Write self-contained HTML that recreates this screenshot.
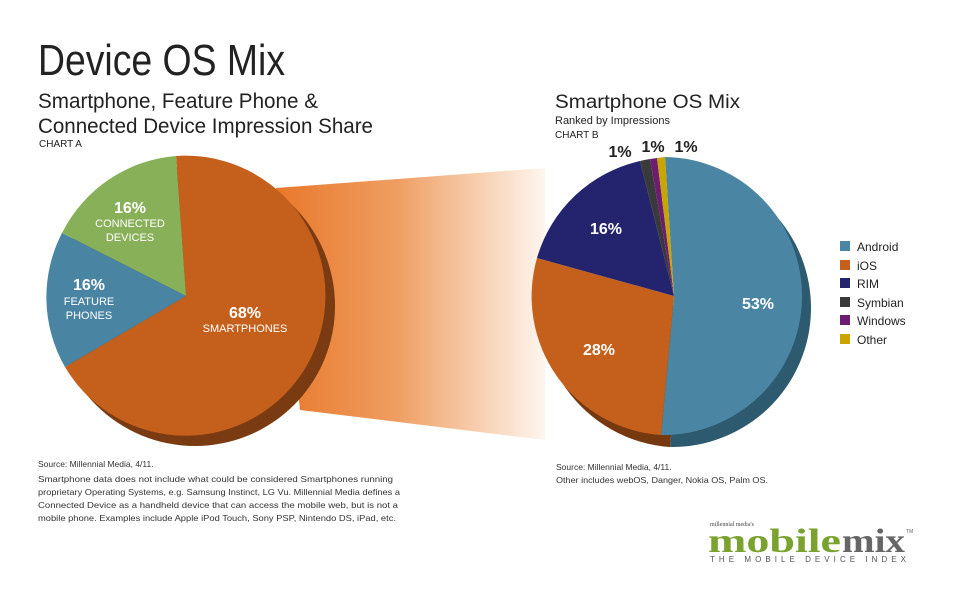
<!DOCTYPE html>
<html><head><meta charset="utf-8"><style>
html,body{margin:0;padding:0;background:#fff;}
svg{display:block;font-family:"Liberation Sans",sans-serif;}
</style></head><body>
<svg width="957" height="598" viewBox="0 0 957 598" xmlns="http://www.w3.org/2000/svg">
<defs>
<linearGradient id="fun" x1="276" y1="0" x2="545" y2="0" gradientUnits="userSpaceOnUse">
<stop offset="0" stop-color="#e8782a"/>
<stop offset="0.45" stop-color="#ef9e62"/>
<stop offset="1" stop-color="#fef6ef"/>
</linearGradient>
</defs>
<text x="38" y="75" font-size="44" fill="#222" textLength="247" lengthAdjust="spacingAndGlyphs">Device OS Mix</text>
<text x="38" y="108" font-size="21" fill="#222" textLength="280" lengthAdjust="spacingAndGlyphs">Smartphone, Feature Phone &amp;</text>
<text x="38" y="133" font-size="21" fill="#222" textLength="335" lengthAdjust="spacingAndGlyphs">Connected Device Impression Share</text>
<text x="39" y="147" font-size="10" fill="#222">CHART A</text>

<text x="555" y="108" font-size="19" fill="#222" textLength="185" lengthAdjust="spacingAndGlyphs">Smartphone OS Mix</text>
<text x="555" y="124" font-size="11" fill="#222">Ranked by Impressions</text>
<text x="555" y="138" font-size="10" fill="#222">CHART B</text>

<!-- funnel -->
<polygon points="276,188 545,168 545,440 300,410" fill="url(#fun)"/>

<!-- left pie shadow -->
<circle cx="195" cy="306" r="140" fill="#7a3a12"/>
<!-- left pie -->
<path d="M186,296 L176,156 A140,140 0 1 1 65,367 Z" fill="#c4601b"/>
<path d="M186,296 L62,233 A140,140 0 0 1 176,156 Z" fill="#88b059"/>
<path d="M186,296 L65,367 A140,140 0 0 1 62,233 Z" fill="#4a84a3"/>
<text x="130" y="213" font-size="16" font-weight="bold" fill="#fff" text-anchor="middle">16%</text>
<text x="130" y="227" font-size="11" fill="#fff" text-anchor="middle">CONNECTED</text>
<text x="130" y="241" font-size="11" fill="#fff" text-anchor="middle">DEVICES</text>
<text x="89" y="290" font-size="16" font-weight="bold" fill="#fff" text-anchor="middle">16%</text>
<text x="89" y="305" font-size="11" fill="#fff" text-anchor="middle">FEATURE</text>
<text x="89" y="319" font-size="11" fill="#fff" text-anchor="middle">PHONES</text>
<text x="245" y="318" font-size="16" font-weight="bold" fill="#fff" text-anchor="middle">68%</text>
<text x="245" y="332" font-size="11" fill="#fff" text-anchor="middle">SMARTPHONES</text>

<!-- right pie shadow -->
<g transform="translate(9,12)">
<path d="M674,296 L665,157 A139,139 0 1 1 661,435 Z" fill="#2d5a6f"/>
<path d="M674,296 L661,435 A139,139 0 0 1 537,258 Z" fill="#75380f"/>
</g>
<path d="M674,296 L665,157 A139,139 0 1 1 661,435 Z" fill="#4a86a4"/>
<path d="M674,296 L661,435 A139,139 0 0 1 537,258 Z" fill="#c4601b"/>
<path d="M674,296 L537,258 A139,139 0 0 1 640,161 Z" fill="#23236e"/>
<path d="M674,296 L640,161 A139,139 0 0 1 650,159 Z" fill="#3a3a3a"/>
<path d="M674,296 L650,159 A139,139 0 0 1 657,158 Z" fill="#6e1b72"/>
<path d="M674,296 L657,158 A139,139 0 0 1 665,157 Z" fill="#c9a500"/>
<text x="606" y="234" font-size="16" font-weight="bold" fill="#fff" text-anchor="middle">16%</text>
<text x="599" y="355" font-size="16" font-weight="bold" fill="#fff" text-anchor="middle">28%</text>
<text x="758" y="309" font-size="16" font-weight="bold" fill="#fff" text-anchor="middle">53%</text>
<text x="620" y="157" font-size="16" font-weight="bold" fill="#222" text-anchor="middle">1%</text>
<text x="653" y="152" font-size="16" font-weight="bold" fill="#222" text-anchor="middle">1%</text>
<text x="686" y="152" font-size="16" font-weight="bold" fill="#222" text-anchor="middle">1%</text>

<!-- legend -->
<g font-size="12" fill="#222">
<rect x="840" y="241" width="10" height="10" fill="#4a86a4"/><text x="857" y="251">Android</text>
<rect x="840" y="260" width="10" height="10" fill="#c4601b"/><text x="857" y="270">iOS</text>
<rect x="840" y="278" width="10" height="10" fill="#23236e"/><text x="857" y="288">RIM</text>
<rect x="840" y="297" width="10" height="10" fill="#3a3a3a"/><text x="857" y="307">Symbian</text>
<rect x="840" y="315" width="10" height="10" fill="#6e1b72"/><text x="857" y="325">Windows</text>
<rect x="840" y="334" width="10" height="10" fill="#c9a500"/><text x="857" y="344">Other</text>
</g>

<!-- footnotes -->
<g font-size="8.5" fill="#333">
<text x="38" y="467">Source: Millennial Media, 4/11.</text>
<text x="38" y="482" textLength="355" lengthAdjust="spacingAndGlyphs">Smartphone data does not include what could be considered Smartphones running</text>
<text x="38" y="495" textLength="362" lengthAdjust="spacingAndGlyphs">proprietary Operating Systems, e.g. Samsung Instinct, LG Vu. Millennial Media defines a</text>
<text x="38" y="508" textLength="360" lengthAdjust="spacingAndGlyphs">Connected Device as a handheld device that can access the mobile web, but is not a</text>
<text x="38" y="521" textLength="358" lengthAdjust="spacingAndGlyphs">mobile phone. Examples include Apple iPod Touch, Sony PSP, Nintendo DS, iPad, etc.</text>
<text x="556" y="470">Source: Millennial Media, 4/11.</text>
<text x="556" y="483" textLength="212" lengthAdjust="spacingAndGlyphs">Other includes webOS, Danger, Nokia OS, Palm OS.</text>
</g>

<!-- logo -->
<text x="710" y="526" font-size="6" font-family="Liberation Serif,serif" fill="#444">millennial media's</text>
<text x="708" y="552" font-size="34" font-weight="bold" font-family="Liberation Serif,serif" fill="#7aa22e" textLength="133" lengthAdjust="spacingAndGlyphs">mobile</text>
<text x="842" y="552" font-size="34" font-weight="bold" font-family="Liberation Serif,serif" fill="#666" textLength="63" lengthAdjust="spacingAndGlyphs">mix</text>
<text x="906" y="533" font-size="5" fill="#666">TM</text>
<text x="710" y="562" font-size="8" fill="#555" textLength="196" lengthAdjust="spacing">THE MOBILE DEVICE INDEX</text>
</svg>
</body></html>
